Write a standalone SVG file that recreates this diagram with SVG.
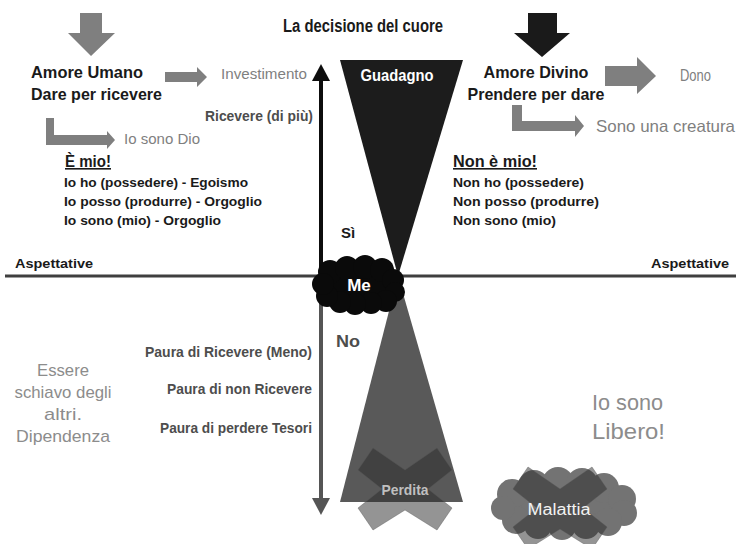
<svg xmlns="http://www.w3.org/2000/svg" width="736" height="544" viewBox="0 0 736 544">
  <style>
    text { font-family: "Liberation Sans", Arial, sans-serif; }
    .b { font-weight: bold; }
    .dark { fill: #1a1a1a; }
    .mid { fill: #4d4d4d; }
    .grey { fill: #7f7f7f; }
    .light { fill: #8c8c8c; }
    .garrow { fill: #7f7f7f; }
  </style>
  <rect width="736" height="544" fill="#ffffff"/>

  <!-- title -->
  <text x="363" y="32" text-anchor="middle" font-size="18" class="b dark" textLength="160" lengthAdjust="spacingAndGlyphs">La decisione del cuore</text>

  <!-- axes -->
  <g id="axes">
    <line x1="5" y1="276" x2="736" y2="276" stroke="#3f3f3f" stroke-width="3"/>
    <line x1="321" y1="78" x2="321" y2="276" stroke="#0d0d0d" stroke-width="4"/>
    <polygon points="321,64 312,81 330,81" fill="#0d0d0d"/>
    <line x1="321" y1="276" x2="321" y2="500" stroke="#555555" stroke-width="4"/>
    <polygon points="321,515 312,498 330,498" fill="#555555"/>
  </g>

  <!-- gain / loss triangles -->
  <g id="guadagno">
    <polygon points="340,60 463,60 398,276" fill="#1c1c1c"/>
    <text x="397" y="81" text-anchor="middle" font-size="17" class="b" fill="#ffffff" textLength="73" lengthAdjust="spacingAndGlyphs">Guadagno</text>
  </g>
  <g id="perdita">
    <polygon points="398,276 463,502 340,502" fill="#595959"/>
    <polygon points="373,448 405,470 437,448 452,470 428,489 452,508 437,530 405,510 373,530 358,508 382,489 358,470" fill="#2a2a2a" fill-opacity="0.5" stroke="#555" stroke-opacity="0.4"/>
    <text x="405" y="495" text-anchor="middle" font-size="14" class="b" fill="#bfbfbf" textLength="47" lengthAdjust="spacingAndGlyphs">Perdita</text>
  </g>

  <!-- central cloud -->
  <g id="me">
    <g fill="#0a0a0a">
      <ellipse cx="358" cy="285" rx="40" ry="22"/>
      <circle cx="330" cy="272" r="12"/>
      <circle cx="347" cy="268" r="12"/>
      <circle cx="365" cy="267" r="12"/>
      <circle cx="382" cy="270" r="12"/>
      <circle cx="393" cy="280" r="11"/>
      <circle cx="395" cy="292" r="10"/>
      <circle cx="386" cy="301" r="11"/>
      <circle cx="371" cy="303" r="11"/>
      <circle cx="355" cy="304" r="11"/>
      <circle cx="340" cy="302" r="11"/>
      <circle cx="327" cy="296" r="11"/>
      <circle cx="323" cy="284" r="11"/>
    </g>
    <text x="359" y="291" text-anchor="middle" font-size="17" class="b" fill="#ffffff">Me</text>
  </g>

  <!-- illness cloud -->
  <g id="malattia">
    <g fill="#737373">
      <ellipse cx="563" cy="505" rx="62" ry="24"/>
      <circle cx="512" cy="494" r="15"/>
      <circle cx="534" cy="486" r="16"/>
      <circle cx="558" cy="483" r="16"/>
      <circle cx="582" cy="484" r="16"/>
      <circle cx="604" cy="488" r="15"/>
      <circle cx="622" cy="499" r="14"/>
      <circle cx="624" cy="513" r="13"/>
      <circle cx="608" cy="522" r="14"/>
      <circle cx="586" cy="525" r="14"/>
      <circle cx="562" cy="526" r="14"/>
      <circle cx="538" cy="525" r="14"/>
      <circle cx="516" cy="520" r="14"/>
      <circle cx="503" cy="508" r="12"/>
    </g>
    <polygon points="528,467 560,489 592,467 607,489 583,508 607,527 592,549 560,529 528,549 513,527 537,508 513,489" fill="#2a2a2a" fill-opacity="0.5" stroke="#555" stroke-opacity="0.4"/>
    <text x="559" y="515" text-anchor="middle" font-size="16" fill="#f2f2f2" textLength="63" lengthAdjust="spacingAndGlyphs">Malattia</text>
  </g>

  <!-- left: human love -->
  <g id="amore-umano">
    <polygon points="80,13 102,13 102,33 115,33 91,56 68,33 80,33" class="garrow"/>
    <text x="31" y="78" font-size="17" class="b dark" textLength="112" lengthAdjust="spacingAndGlyphs">Amore Umano</text>
    <text x="31" y="100" font-size="17" class="b dark" textLength="131" lengthAdjust="spacingAndGlyphs">Dare per ricevere</text>
  </g>
  <g id="investimento">
    <polygon points="165,72 197,72 197,67 207,77 197,87 197,82 165,82" class="garrow"/>
    <text x="221" y="79" font-size="15" class="grey" textLength="86" lengthAdjust="spacingAndGlyphs">Investimento</text>
  </g>
  <text x="205" y="121" font-size="14" class="b mid" textLength="108" lengthAdjust="spacingAndGlyphs">Ricevere (di più)</text>
  <g id="io-sono-dio">
    <polygon points="46,118 54,118 54,135 107,135 107,131 115,140 107,149 107,145 46,145" class="garrow"/>
    <text x="124" y="144" font-size="14.5" class="grey" textLength="76" lengthAdjust="spacingAndGlyphs">Io sono Dio</text>
  </g>
  <g id="e-mio">
    <text x="65" y="167" font-size="16" class="b dark" text-decoration="underline" textLength="46" lengthAdjust="spacingAndGlyphs">È mio!</text>
    <text x="64" y="187" font-size="13.5" class="b dark" textLength="184" lengthAdjust="spacingAndGlyphs">Io ho (possedere) - Egoismo</text>
    <text x="64" y="206" font-size="13.5" class="b dark" textLength="198" lengthAdjust="spacingAndGlyphs">Io posso (produrre) - Orgoglio</text>
    <text x="64" y="225" font-size="13.5" class="b dark" textLength="157" lengthAdjust="spacingAndGlyphs">Io sono (mio) - Orgoglio</text>
  </g>

  <!-- right: divine love -->
  <g id="amore-divino">
    <polygon points="528,13 557,13 557,33 570,33 542,57 514,33 528,33" fill="#1a1a1a"/>
    <text x="536" y="78" text-anchor="middle" font-size="17" class="b dark" textLength="105" lengthAdjust="spacingAndGlyphs">Amore Divino</text>
    <text x="536" y="100" text-anchor="middle" font-size="17" class="b dark" textLength="137" lengthAdjust="spacingAndGlyphs">Prendere per dare</text>
  </g>
  <g id="dono">
    <polygon points="605,66 637,66 637,57 656,76 637,94 637,86 605,86" class="garrow"/>
    <text x="680" y="81" font-size="16" class="grey" textLength="31" lengthAdjust="spacingAndGlyphs">Dono</text>
  </g>
  <g id="creatura">
    <polygon points="512,105 522,105 522,121 575,121 575,115 584,126 575,137 575,131 512,131" class="garrow"/>
    <text x="596" y="132" font-size="16.5" class="grey" textLength="139" lengthAdjust="spacingAndGlyphs">Sono una creatura</text>
  </g>
  <g id="non-e-mio">
    <text x="453" y="167" font-size="16" class="b dark" text-decoration="underline" textLength="84" lengthAdjust="spacingAndGlyphs">Non è mio!</text>
    <text x="453" y="187" font-size="13.5" class="b dark" textLength="131" lengthAdjust="spacingAndGlyphs">Non ho (possedere)</text>
    <text x="453" y="206" font-size="13.5" class="b dark" textLength="146" lengthAdjust="spacingAndGlyphs">Non posso (produrre)</text>
    <text x="453" y="225" font-size="13.5" class="b dark" textLength="103" lengthAdjust="spacingAndGlyphs">Non sono (mio)</text>
  </g>

  <!-- axis labels -->
  <text x="341" y="238" font-size="15" class="b dark">Sì</text>
  <text x="15" y="268" font-size="13" class="b dark" textLength="78" lengthAdjust="spacingAndGlyphs">Aspettative</text>
  <text x="651" y="268" font-size="13" class="b dark" textLength="78" lengthAdjust="spacingAndGlyphs">Aspettative</text>
  <text x="336" y="347" font-size="16" class="b mid" textLength="24" lengthAdjust="spacingAndGlyphs">No</text>

  <!-- fears -->
  <g id="paure">
    <text x="312" y="357" text-anchor="end" font-size="14" class="b mid" textLength="167" lengthAdjust="spacingAndGlyphs">Paura di Ricevere (Meno)</text>
    <text x="312" y="394" text-anchor="end" font-size="14" class="b mid" textLength="145" lengthAdjust="spacingAndGlyphs">Paura di non Ricevere</text>
    <text x="312" y="433" text-anchor="end" font-size="14" class="b mid" textLength="152" lengthAdjust="spacingAndGlyphs">Paura di perdere Tesori</text>
  </g>

  <g id="dipendenza" font-size="17" text-anchor="middle" class="light">
    <text x="63" y="376" textLength="52" lengthAdjust="spacingAndGlyphs">Essere</text>
    <text x="63" y="398" textLength="97" lengthAdjust="spacingAndGlyphs">schiavo degli</text>
    <text x="63" y="420" textLength="38" lengthAdjust="spacingAndGlyphs">altri.</text>
    <text x="63" y="442" textLength="94" lengthAdjust="spacingAndGlyphs">Dipendenza</text>
  </g>

  <g id="libero" font-size="22" class="light">
    <text x="592" y="410" textLength="71" lengthAdjust="spacingAndGlyphs">Io sono</text>
    <text x="592" y="439" textLength="73" lengthAdjust="spacingAndGlyphs">Libero!</text>
  </g>
</svg>
